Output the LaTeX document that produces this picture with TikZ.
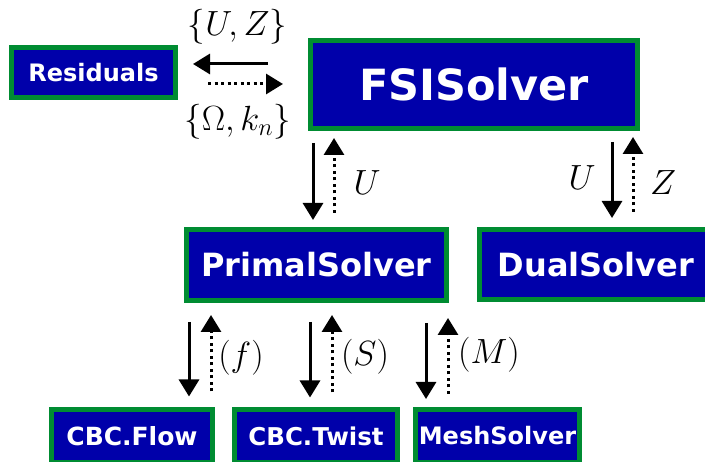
\RequirePackage{fix-cm}
\documentclass[tikz,border=0pt]{standalone}
\usepackage{fontspec}
\newfontfamily\dvsb{DejaVu Sans Bold}
\usetikzlibrary{arrows.meta,calc}
\definecolor{boxblue}{RGB}{0,0,170}
\definecolor{boxgreen}{RGB}{0,140,50}
\begin{document}
\begin{tikzpicture}[x=1pt,y=-1pt,
  box/.style={draw=boxgreen, fill=boxblue, line width=5pt, text=white, inner sep=0pt, outer sep=2.5pt},
  sol/.style={line width=3pt, -{Triangle[width=20pt,length=17pt]}},
  dotarr/.style={sol, dash pattern=on 3pt off 3.5pt},
  lab/.style={font=\fontsize{35}{40}\selectfont, inner sep=0pt}]
\useasboundingbox (0,0) rectangle (705,462);
\node[box, minimum width=164pt, minimum height=50pt, font=\dvsb\fontsize{24}{27}\selectfont] (res) at (93.5,72.5) {Residuals};
\node[box, minimum width=327pt, minimum height=88pt, font=\dvsb\fontsize{43}{47}\selectfont] (fsi) at (474,84.5) {FSISolver};
\node[box, minimum width=260pt, minimum height=71pt, font=\dvsb\fontsize{32}{35}\selectfont] (primal) at (316.5,265) {PrimalSolver};
\node[box, minimum width=233pt, minimum height=70pt, font=\dvsb\fontsize{32}{35}\selectfont] (dual) at (596,264.5) {DualSolver};
\node[box, minimum width=161pt, minimum height=53pt, font=\dvsb\fontsize{25}{28}\selectfont] (flow) at (132,436.5) {CBC.Flow};
\node[box, minimum width=163pt, minimum height=53pt, font=\dvsb\fontsize{24.5}{27}\selectfont] (twist) at (316,436.5) {CBC.Twist};
\node[box, minimum width=164pt, minimum height=53pt, font=\dvsb\fontsize{24}{27}\selectfont] (mesh) at (497.5,436) {MeshSolver};
% Residuals <-> FSI
\draw[sol, shorten <=40pt, shorten >=15pt] ($(fsi.north west |- res.north east)+(0,19)$) -- ($(res.north east)+(0,19)$);
\draw[dotarr, shorten <=30pt, shorten >=25pt] ($(res.north east)+(0,39)$) -- ($(fsi.north west |- res.north east)+(0,39)$);
% FSI <-> Primal
\draw[sol, shorten <=12pt, shorten >=7pt] ($(fsi.south west)+(5,0)$) -- ($(fsi.south west |- primal.north)+(5,0)$);
\draw[dotarr, shorten <=14pt, shorten >=7pt] ($(fsi.south west |- primal.north)+(26,0)$) -- ($(fsi.south west)+(26,0)$);
% FSI <-> Dual
\draw[sol, shorten <=11pt, shorten >=9pt] ($(fsi.south east)+(-28,0)$) -- ($(fsi.south east |- dual.north)+(-28,0)$);
\draw[dotarr, shorten <=15pt, shorten >=6pt] ($(fsi.south east |- dual.north)+(-7,0)$) -- ($(fsi.south east)+(-7,0)$);
% Primal <-> children
\draw[sol, shorten <=19pt, shorten >=11pt] ($(primal.south west)+(5,0)$) -- ($(primal.south west |- flow.north)+(5,0)$);
\draw[dotarr, shorten <=16pt, shorten >=12pt] ($(primal.south west |- flow.north)+(27,0)$) -- ($(primal.south west)+(27,0)$);
\draw[sol, shorten <=19pt, shorten >=10pt] ($(primal.south west)+(126,0)$) -- ($(primal.south west |- twist.north)+(126,0)$);
\draw[dotarr, shorten <=15pt, shorten >=12pt] ($(primal.south west |- twist.north)+(148,0)$) -- ($(primal.south west)+(148,0)$);
\draw[sol, shorten <=20pt, shorten >=8pt] ($(primal.south west)+(242,0)$) -- ($(primal.south west |- mesh.north)+(242,0)$);
\draw[dotarr, shorten <=13pt, shorten >=15pt] ($(primal.south west |- mesh.north)+(264,0)$) -- ($(primal.south west)+(264,0)$);
% labels
\node[lab] (lUZ) at (237.5,27) {$\{U,Z\}$};
\node[lab] (lOk) at (237.5,122) {$\{\Omega,k_n\}$};
\node[lab] (lU1) at (367,183) {$U$};
\node[lab] (lU2) at (582,178) {$U$};
\node[lab] (lZ) at (663,183) {$Z$};
\node[lab] (lf) at (241,358) {$(f)$};
\node[lab] (lS) at (365,357) {$(S)$};
\node[lab] (lM) at (489,355) {$(M)$};
\end{tikzpicture}
\end{document}
